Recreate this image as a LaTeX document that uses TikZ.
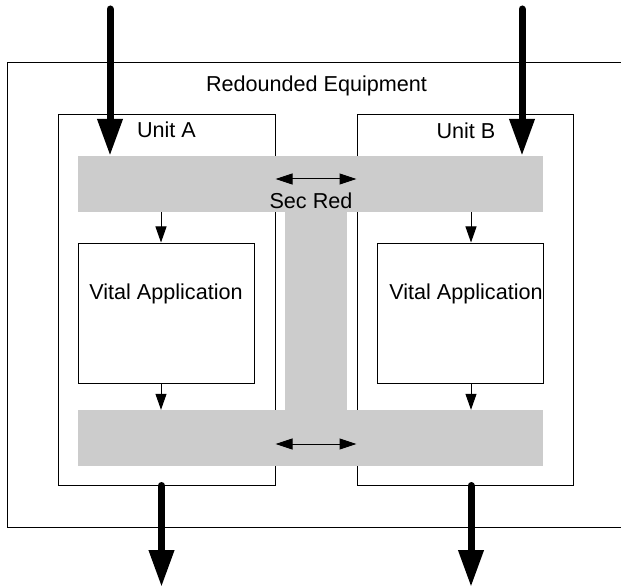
\documentclass[tikz,border=0pt]{standalone}
\usepackage{fontspec}
\setmainfont{Liberation Sans}
\usetikzlibrary{arrows.meta}
\definecolor{bargray}{HTML}{CCCCCC}
\tikzset{
  box/.style={draw=black, line width=1pt, inner sep=0pt, anchor=center},
  bar/.style={fill=bargray, draw=none, inner sep=0pt, anchor=center},
  vital/.style={box, fill=white},
  lbl/.style={inner sep=0pt, anchor=base, font=\fontsize{21.6}{26}\selectfont},
  bigarrow/.style={line width=7pt, line cap=round, -{Triangle[length=37pt,width=24pt]}},
  smallarrow/.style={line width=1pt, -{Triangle[length=16pt,width=11pt]}},
  duplex/.style={line width=1pt, {Triangle[length=17pt,width=11pt]}-{Triangle[length=17pt,width=11pt]}}
}
\begin{document}
\begin{tikzpicture}[x=1pt,y=-1pt]
\useasboundingbox (0,0) rectangle (621,588);
\clip (0,0) rectangle (621,588);
% outer equipment box (right side runs off the picture)
\node[box, minimum width=633pt, minimum height=464pt] (outer) at (323.5,295) {};
\node[lbl] (outerlbl) at (316.5,92) {Redounded Equipment};
% units
\node[box, minimum width=217pt, minimum height=370pt] (unitA) at (166.5,300) {};
\node[box, minimum width=216pt, minimum height=370pt] (unitB) at (465,300) {};
\node[lbl] (unitAlbl) at (166.5,138) {Unit A};
\node[lbl] (unitBlbl) at (466,138.5) {Unit B};
% gray shared layers
\node[bar, minimum width=465pt, minimum height=56pt] (topbar) at (310.5,184) {};
\node[bar, minimum width=62pt, minimum height=199pt] (vbar) at (316,311) {};
\node[bar, minimum width=465pt, minimum height=56pt] (botbar) at (310.5,438) {};
% vital applications
\node[vital, minimum width=175.5pt, minimum height=140pt] (vitA) at (166.25,313) {};
\node[vital, minimum width=166pt, minimum height=140pt] (vitB) at (460,313) {};
\node[lbl] (vitAlbl) at (166,299) {Vital Application};
\node[lbl] (vitBlbl) at (466,299) {Vital Application};
% sec red
\node[lbl] (secred) at (311,208.3) {Sec Red};
\coordinate (secy) at (0,179);
\coordinate (boty) at (0,444);
\draw[duplex] (unitA.east |- secy) -- (unitB.west |- secy);
\draw[duplex] (unitA.east |- boty) -- (unitB.west |- boty);
% small internal arrows
\coordinate (colA) at (161,0);
\coordinate (colB) at (471,0);
\draw[smallarrow] (topbar.south -| colA) -- (vitA.north -| colA);
\draw[smallarrow] (vitA.south -| colA) -- (botbar.north -| colA);
\draw[smallarrow] (topbar.south -| colB) -- (vitB.north -| colB);
\draw[smallarrow] (vitB.south -| colB) -- (botbar.north -| colB);
% big inputs / outputs
\coordinate (inA) at (110,9);
\coordinate (inB) at (522,9);
\coordinate (outA) at (161.5,587);
\coordinate (outB) at (471,587);
\draw[bigarrow] (inA) -- (inA |- topbar.north);
\draw[bigarrow] (inB) -- (inB |- topbar.north);
\draw[bigarrow] (unitA.south -| outA) -- (outA);
\draw[bigarrow] (unitB.south -| outB) -- (outB);
\end{tikzpicture}
\end{document}
